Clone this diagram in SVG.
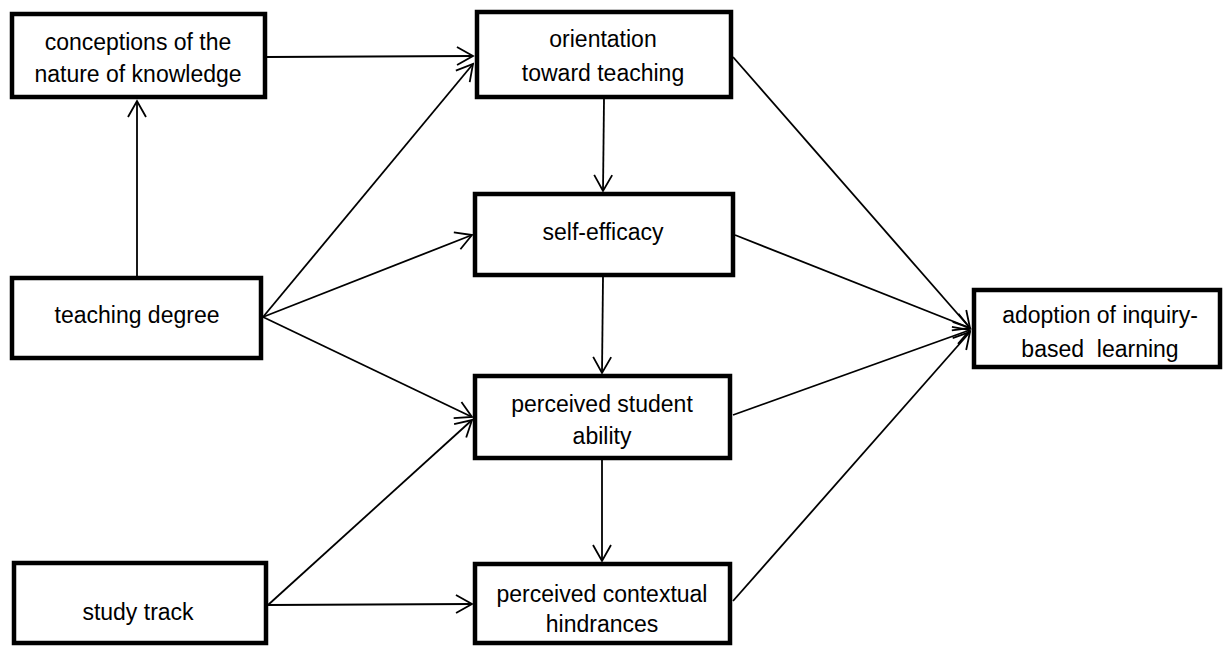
<svg xmlns="http://www.w3.org/2000/svg" width="1230" height="647" viewBox="0 0 1230 647">
<style>
.box{fill:#fff;stroke:#000;stroke-width:4.5}
.lbl{font-family:"Liberation Sans",Arial,sans-serif;font-size:23px;fill:#000;text-anchor:middle;white-space:pre}
.edge{stroke:#000;stroke-width:1.8;fill:none;marker-end:url(#arr)}
</style>
<defs>
<marker id="arr" viewBox="0 0 20 20" refX="18" refY="10" markerWidth="20" markerHeight="20" markerUnits="userSpaceOnUse" orient="auto">
<path d="M2,1 L18,10 L2,19" fill="none" stroke="#000" stroke-width="1.8"/>
</marker>
</defs>
<rect width="1230" height="647" fill="#fff"/>
<g id="connectors">
<line class="edge" x1="267" y1="57" x2="473" y2="56"/>
<line class="edge" x1="137" y1="276" x2="137" y2="101"/>
<line class="edge" x1="263" y1="317" x2="473" y2="64"/>
<line class="edge" x1="263" y1="317" x2="472" y2="235"/>
<line class="edge" x1="263" y1="317" x2="472" y2="417"/>
<line class="edge" x1="268" y1="605" x2="472" y2="420"/>
<line class="edge" x1="268" y1="605" x2="472" y2="604"/>
<line class="edge" x1="604" y1="99" x2="603" y2="191"/>
<line class="edge" x1="603" y1="277" x2="602" y2="373"/>
<line class="edge" x1="602" y1="460" x2="602" y2="561"/>
<line class="edge" x1="733" y1="57" x2="970" y2="328"/>
<line class="edge" x1="735" y1="235" x2="970" y2="328"/>
<line class="edge" x1="733" y1="415" x2="970" y2="330"/>
<line class="edge" x1="733" y1="601" x2="970" y2="332"/>
</g>
<g id="conceptions">
<rect class="box" x="12" y="14" width="253" height="83"/>
<text class="lbl" x="138" y="50">conceptions of the</text>
<text class="lbl" x="138" y="82">nature of knowledge</text>
</g>
<g id="orientation">
<rect class="box" x="477" y="12" width="254" height="85"/>
<text class="lbl" x="603" y="47">orientation</text>
<text class="lbl" x="603" y="81">toward teaching</text>
</g>
<g id="self-efficacy">
<rect class="box" x="475" y="194" width="258" height="81"/>
<text class="lbl" x="603" y="240">self-efficacy</text>
</g>
<g id="teaching-degree">
<rect class="box" x="12" y="278" width="249" height="80"/>
<text class="lbl" x="137" y="323">teaching degree</text>
</g>
<g id="student-ability">
<rect class="box" x="475" y="376" width="255" height="82"/>
<text class="lbl" x="602" y="412">perceived student</text>
<text class="lbl" x="602" y="444">ability</text>
</g>
<g id="adoption">
<rect class="box" x="974" y="290" width="246" height="77"/>
<text class="lbl" x="1100" y="323">adoption of inquiry-</text>
<text class="lbl" x="1100" y="357">based  learning</text>
</g>
<g id="study-track">
<rect class="box" x="14" y="563" width="252" height="80"/>
<text class="lbl" x="138" y="620">study track</text>
</g>
<g id="hindrances">
<rect class="box" x="475" y="564" width="255" height="79"/>
<text class="lbl" x="602" y="602">perceived contextual</text>
<text class="lbl" x="602" y="632">hindrances</text>
</g>
</svg>
